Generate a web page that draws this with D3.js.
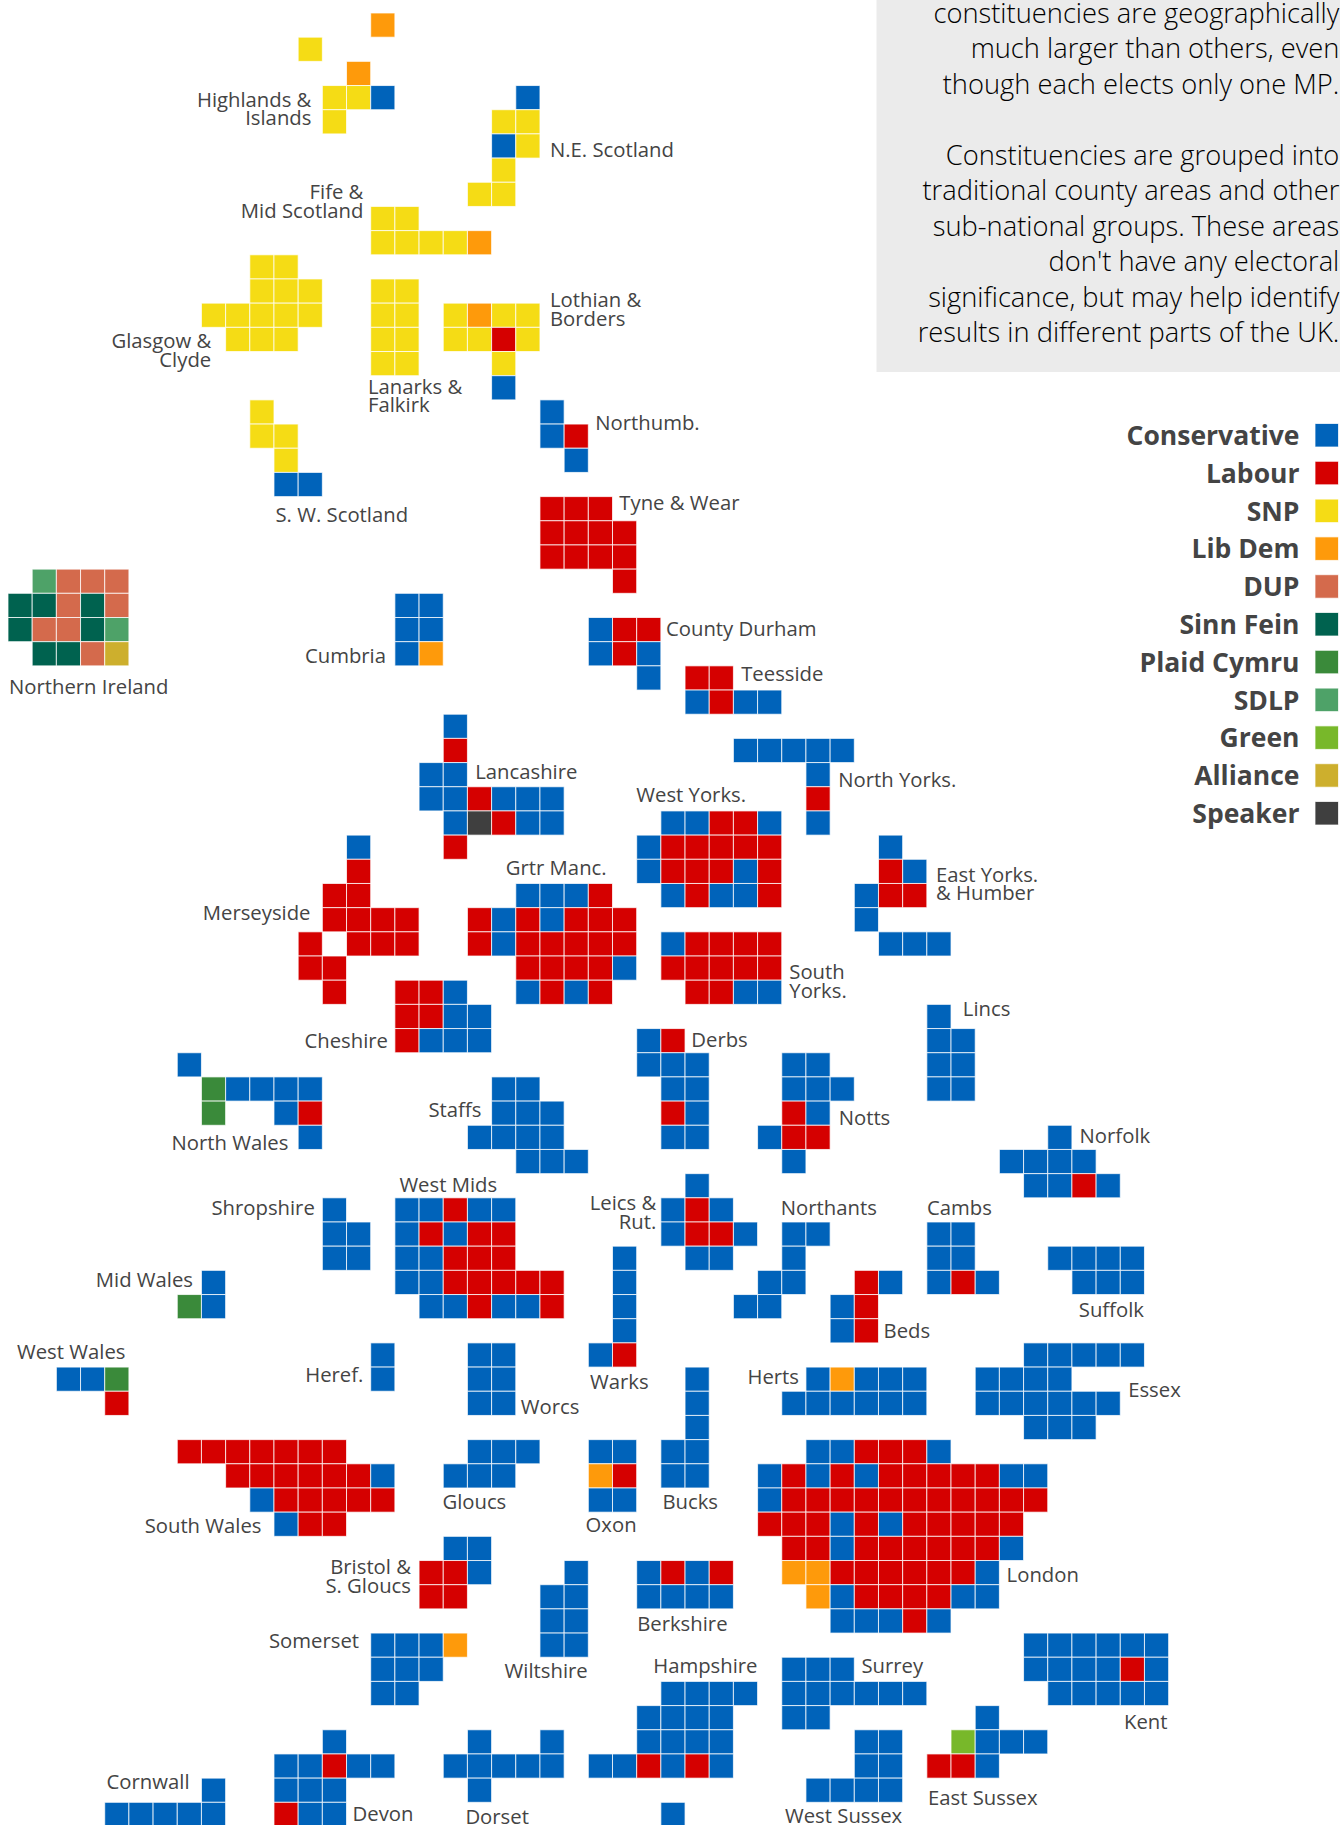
<!DOCTYPE html>
<html>
<head>
<meta charset="utf-8">
<script src="https://cdn.jsdelivr.net/npm/d3@7"></script>
<style>
html,body{margin:0;padding:0;background:#fff;overflow:hidden}
svg{display:block;font-family:"Open Sans",sans-serif}
</style>
</head>
<body>
<svg id="chart" width="1340" height="1825"></svg>
<script>
// ---------- data: parties ----------
const partyKeys = ["C","Lab","S","L","DUP","SF","PC","SDLP","G","All","Spk"];
const partyNames = ["Conservative","Labour","SNP","Lib Dem","DUP","Sinn Fein","Plaid Cymru","SDLP","Green","Alliance","Speaker"];
const partyColors = ["#0063ba","#d50000","#f5dc15","#fe9a0b","#d46a4c","#00624f","#3a8a3a","#4ea268","#78b82a","#cdaf2d","#3f3f3f"];

// ---------- data: seats per grid row, "column party" ----------
const seatRows = [
"15L",
"12S",
"14L",
"13S 14S 15C 21C",
"13S 20S 21S",
"20C 21S",
"20S",
"19S 20S",
"15S 16S",
"15S 16S 17S 18S 19L",
"10S 11S",
"10S 11S 12S 15S 16S",
"8S 9S 10S 11S 12S 15S 16S 18S 19L 20S 21S",
"9S 10S 11S 15S 16S 18S 19S 20Lab 21S",
"15S 16S 20S",
"20C",
"10S 22C",
"10S 11S 22C 23Lab",
"11S 23C",
"11C 12C",
"22Lab 23Lab 24Lab",
"22Lab 23Lab 24Lab 25Lab",
"22Lab 23Lab 24Lab 25Lab",
"1SDLP 2DUP 3DUP 4DUP 25Lab",
"0SF 1SF 2DUP 3SF 4DUP 16C 17C",
"0SF 1DUP 2DUP 3SF 4SDLP 16C 17C 24C 25Lab 26Lab",
"1SF 2SF 3DUP 4All 16C 17L 24C 25Lab 26C",
"26C 28Lab 29Lab",
"28C 29Lab 30C 31C",
"18C",
"18Lab 30C 31C 32C 33C 34C",
"17C 18C 33C",
"17C 18C 19Lab 20C 21C 22C 33Lab",
"18C 19Spk 20Lab 21C 22C 27C 28C 29Lab 30Lab 31C 33C",
"14C 18Lab 26C 27Lab 28Lab 29Lab 30Lab 31Lab 36C",
"14Lab 26C 27Lab 28Lab 29Lab 30C 31Lab 36Lab 37C",
"13Lab 14Lab 21C 22C 23C 24Lab 27C 28Lab 29C 30C 31Lab 35C 36Lab 37Lab",
"13Lab 14Lab 15Lab 16Lab 19Lab 20C 21Lab 22C 23Lab 24Lab 25Lab 35C",
"12Lab 14Lab 15Lab 16Lab 19Lab 20C 21Lab 22Lab 23Lab 24Lab 25Lab 27C 28Lab 29Lab 30Lab 31Lab 36C 37C 38C",
"12Lab 13Lab 21Lab 22Lab 23Lab 24Lab 25C 27Lab 28Lab 29Lab 30Lab 31Lab",
"13Lab 16Lab 17Lab 18C 21C 22Lab 23C 24Lab 28Lab 29Lab 30C 31C",
"16Lab 17Lab 18C 19C 38C",
"16Lab 17C 18C 19C 26C 27Lab 38C 39C",
"7C 26C 27C 28C 32C 33C 38C 39C",
"8PC 9C 10C 11C 12C 20C 21C 27C 28C 32C 33C 34C 38C 39C",
"8PC 11C 12Lab 20C 21C 22C 27Lab 28C 32Lab 33C",
"12C 19C 20C 21C 22C 27C 28C 31C 32Lab 33Lab 43C",
"21C 22C 23C 32C 41C 42C 43C 44C",
"28C 42C 43C 44Lab 45C",
"13C 16C 17C 18Lab 19C 20C 27C 28Lab 29C",
"13C 14C 16C 17Lab 18C 19Lab 20Lab 27C 28Lab 29Lab 30C 32C 33C 38C 39C",
"13C 14C 16C 17C 18Lab 19Lab 20Lab 25C 28C 29C 32C 38C 39C 43C 44C 45C 46C",
"8C 16C 17C 18Lab 19Lab 20Lab 21Lab 22Lab 25C 31C 32C 35Lab 36C 38C 39Lab 40C 44C 45C 46C",
"7PC 8C 17C 18C 19Lab 20C 21C 22Lab 25C 30C 31C 34C 35Lab",
"25C 34C 35Lab",
"15C 19C 20C 24C 25Lab 42C 43C 44C 45C 46C",
"2C 3C 4PC 15C 19C 20C 28C 33C 34L 35C 36C 37C 40C 41C 42C 43C",
"4Lab 19C 20C 28C 32C 33C 34C 35C 36C 37C 40C 41C 42C 43C 44C 45C",
"28C 42C 43C 44C",
"7Lab 8Lab 9Lab 10Lab 11Lab 12Lab 13Lab 19C 20C 21C 24C 25C 27C 28C 33C 34C 35Lab 36Lab 37Lab 38C",
"9Lab 10Lab 11Lab 12Lab 13Lab 14Lab 15C 18C 19C 20C 24L 25Lab 27C 28C 31C 32Lab 33C 34Lab 35C 36Lab 37Lab 38Lab 39Lab 40Lab 41C 42C",
"10C 11Lab 12Lab 13Lab 14Lab 15Lab 24C 25C 31C 32Lab 33Lab 34Lab 35Lab 36Lab 37Lab 38Lab 39Lab 40Lab 41Lab 42Lab",
"11C 12Lab 13Lab 31Lab 32Lab 33Lab 34C 35Lab 36C 37Lab 38Lab 39Lab 40Lab 41Lab",
"18C 19C 32Lab 33Lab 34C 35Lab 36Lab 37Lab 38Lab 39Lab 40Lab 41C",
"17Lab 18Lab 19C 23C 26C 27Lab 28C 29Lab 32L 33L 34Lab 35Lab 36Lab 37Lab 38Lab 39Lab 40C",
"17Lab 18Lab 22C 23C 26C 27C 28C 29C 33L 34C 35Lab 36Lab 37Lab 38Lab 39C 40C",
"22C 23C 34C 35C 36C 37Lab 38C",
"15C 16C 17C 18L 22C 23C 42C 43C 44C 45C 46C 47C",
"15C 16C 17C 32C 33C 34C 42C 43C 44C 45C 46Lab 47C",
"15C 16C 27C 28C 29C 30C 32C 33C 34C 35C 36C 37C 43C 44C 45C 46C 47C",
"26C 27C 28C 29C 32C 33C 40C",
"13C 19C 22C 26C 27C 28C 29C 35C 36C 39G 40C 41C 42C",
"11C 12C 13Lab 14C 15C 18C 19C 20C 21C 22C 24C 25C 26Lab 27C 28Lab 29C 35C 36C 38Lab 39Lab 40C",
"8C 11C 12C 13C 19C 33C 34C 35C 36C",
"4C 5C 6C 7C 8C 11Lab 12C 13C 27C"
];

// ---------- data: region labels (text lines) ----------
const labelTexts = [
["Highlands &","Islands"],["N.E. Scotland"],["Fife &","Mid Scotland"],["Glasgow &","Clyde"],["Lanarks &","Falkirk"],
["Lothian &","Borders"],["Northumb."],["S. W. Scotland"],["Tyne & Wear"],["Northern Ireland"],["Cumbria"],["County Durham"],
["Teesside"],["Lancashire"],["North Yorks."],["West Yorks."],["Grtr Manc."],["Merseyside"],["East Yorks.","& Humber"],
["South","Yorks."],["Lincs"],["Derbs"],["Cheshire"],["Staffs"],["North Wales"],["Notts"],["Norfolk"],["West Mids"],
["Shropshire"],["Leics &","Rut."],["Northants"],["Cambs"],["Mid Wales"],["Suffolk"],["Beds"],["West Wales"],["Heref."],
["Warks"],["Herts"],["Essex"],["Worcs"],["Gloucs"],["Bucks"],["Oxon"],["South Wales"],["London"],["Bristol &","S. Gloucs"],
["Berkshire"],["Somerset"],["Wiltshire"],["Hampshire"],["Surrey"],["Kent"],["Cornwall"],["Devon"],["Dorset"],["East Sussex"],["West Sussex"]
];

const noteLines = [
"constituencies are geographically","much larger than others, even","though each elects only one MP.","",
"Constituencies are grouped into","traditional county areas and other","sub-national groups. These areas","don't have any electoral",
"significance, but may help identify","results in different parts of the UK."
];

// ---------- layout (kept apart from the data) ----------
// label placement: [anchor, x, first baseline] in the same order as labelTexts
const labelPlacement = [
["end",311.4,106.5],["start",550,157],["end",363.4,198.8],["end",211.2,348],["start",368,393.5],
["start",550,306.8],["start",595.3,430],["start",275.5,521.5],["start",619.3,509.7],["start",9,694],["end",386,663],["start",666,635.5],
["start",741.2,681],["start",475.2,778.8],["start",838.2,787.3],["start",636.3,801.5],["start",505.8,875],["end",310.5,920],["start",936,881.5],
["start",789.3,978.7],["start",962.8,1016],["start",691.3,1047],["end",388,1048.3],["end",481.4,1117],["end",288.4,1149.5],["start",838.7,1124.7],["start",1079.6,1143],["start",399.4,1192],
["end",314.8,1215.3],["end",656.3,1210],["start",780.8,1215.3],["start",927,1215.3],["end",193,1287.3],["end",1144,1317.3],["start",883.6,1337.7],["start",17,1359.3],["end",363.4,1381.7],
["start",590,1388.7],["end",799,1383.7],["start",1128.2,1397.3],["start",520.8,1414],["start",442.4,1509],["start",662.4,1509],["start",585.6,1532],["end",261.5,1532.7],["start",1006.6,1582.3],["end",411,1574],
["start",637.2,1631],["end",359,1648.3],["start",504.6,1677.7],["start",653.2,1673.3],["start",861.4,1672.7],["start",1124,1728.7],["start",106.6,1789],["start",352.6,1821.3],["start",465.4,1824],["start",928,1805.3],["start",785,1823]
];

const CELL = 24.18, ORIGIN_X = 8, ORIGIN_Y = 13;
const x = d3.scaleLinear().domain([0,1]).range([ORIGIN_X, ORIGIN_X + CELL]);
const y = d3.scaleLinear().domain([0,1]).range([ORIGIN_Y, ORIGIN_Y + CELL]);
const color = d3.scaleOrdinal().domain(partyKeys).range(partyColors);

const seats = seatRows.flatMap((row, r) => row.split(" ").map(tok => {
  const m = tok.match(/^(\d+)(\w+)$/);
  return {col:+m[1], row:r, party:m[2]};
}));

const svg = d3.select("#chart");

// note box
const note = svg.append("g").attr("class","note");
note.append("rect").attr("x",876.5).attr("y",-2).attr("width",470).attr("height",374).attr("fill","#ebebeb");
note.selectAll("text").data(noteLines).join("text")
  .attr("x",1339.3).attr("y",(d,i)=>22.5+i*35.55)
  .attr("text-anchor","end").attr("font-size",27.3).attr("font-weight",300).attr("fill","#000")
  .text(d=>d);

// tiles
svg.append("g").attr("class","tiles").selectAll("rect").data(seats).join("rect")
  .attr("x",d=>x(d.col)).attr("y",d=>y(d.row))
  .attr("width",CELL).attr("height",CELL)
  .attr("fill",d=>color(d.party))
  .attr("stroke","#fff").attr("stroke-opacity",0.75).attr("stroke-width",1);

// region labels
const lab = svg.append("g").attr("class","labels").selectAll("text").data(labelTexts).join("text")
  .attr("text-anchor",(d,i)=>labelPlacement[i][0])
  .attr("font-size",20.3).attr("fill","#444");
lab.selectAll("tspan").data((d,i)=>d.map(t=>({t,p:labelPlacement[i]}))).join("tspan")
  .attr("x",d=>d.p[1]).attr("y",(d,j)=>d.p[2]+j*18.8).text(d=>d.t);

// legend
const legendY = d3.scaleLinear().domain([0,1]).range([423.5,461.3]);
const leg = svg.append("g").attr("class","legend").selectAll("g").data(partyKeys).join("g");
leg.append("rect").attr("x",1315).attr("y",(d,i)=>legendY(i)).attr("width",23.5).attr("height",23.5)
  .attr("fill",d=>color(d)).attr("stroke","#fff").attr("stroke-opacity",0.75);
leg.append("text").attr("x",1299.5).attr("y",(d,i)=>legendY(i)+21.5).attr("text-anchor","end")
  .attr("font-size",26.5).attr("font-weight",700).attr("fill","#444").text((d,i)=>partyNames[i]);
</script>
</body>
</html>
